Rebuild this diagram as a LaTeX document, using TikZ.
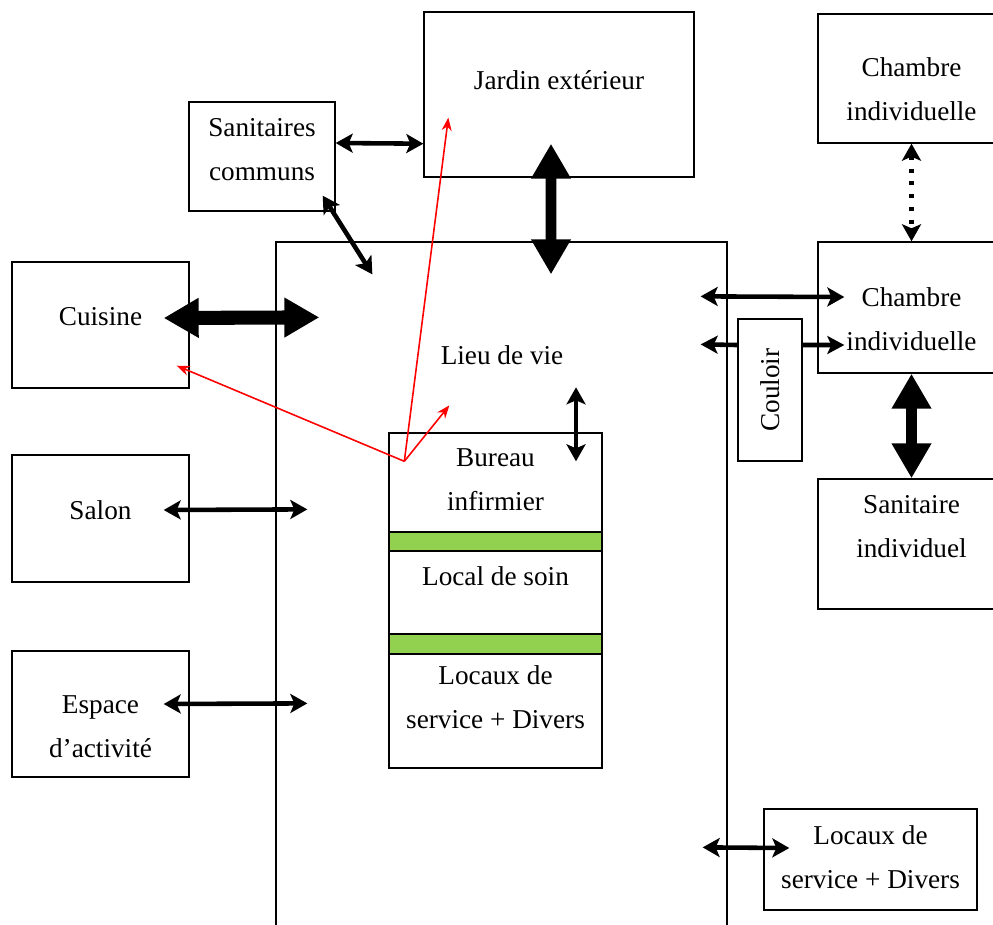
\documentclass[tikz,border=0pt]{standalone}
\usepackage{fontspec}
\setmainfont{Liberation Serif}
\usepackage{graphicx}
\usepackage{xcolor}
\definecolor{soingreen}{RGB}{146, 208, 80}
\usepackage{tikz}
\usetikzlibrary{arrows.meta, positioning, calc}

\begin{document}
\begin{tikzpicture}[x=0.02cm, y=-0.02cm,
      font=\fontsize{15.5pt}{25pt}\selectfont,
      room/.style={draw, line width=0.8pt, align=center, inner sep=2pt, text height=11pt},
      tworoom/.style={room, text height=36pt},
      band/.style={draw, line width=0.8pt, fill=soingreen, minimum width=4.26cm, inner sep=0pt},
      twoway/.style={line width=2.6pt,
            {Stealth[length=0.34cm, width=0.38cm, inset=0.08cm]}-{Stealth[length=0.34cm, width=0.38cm, inset=0.08cm]}},
      oneway/.style={line width=2.6pt, -{Stealth[length=0.34cm, width=0.36cm, inset=0.08cm]}},
      bigway/.style={line width=7pt, {Triangle[length=0.7cm, width=0.75cm]}-{Triangle[length=0.7cm, width=0.75cm]}},
      nurse/.style={red, line width=0.9pt, -{Stealth[length=0.26cm, width=0.2cm]}}]
      \useasboundingbox (0,0) rectangle (993,924);

      \node[room, minimum width=9.02cm, minimum height=13.96cm] (lieu) at (501.5,591) {};
      \node (lieutxt) at (502,355) {Lieu de vie};

      \node[room, minimum width=5.4cm, minimum height=3.3cm, text depth=16.5pt] (jardin)
            at (559,94.5) {Jardin extérieur};
      \node[tworoom, minimum width=2.92cm, minimum height=2.18cm, text depth=8.5pt] (sanitaires)
            at (262,156.5) {Sanitaires\\communs};
      \node[room, minimum width=3.54cm, minimum height=2.52cm, text depth=10pt] (cuisine)
            at (100.5,325) {Cuisine};
      \node[room, minimum width=3.54cm, minimum height=2.54cm, text depth=9.7pt] (salon)
            at (100.5,518.5) {Salon};
      \node[tworoom, minimum width=3.54cm, minimum height=2.52cm, text height=49pt, text depth=0pt] (espace)
            at (100.5,714) {Espace\\d’activité};

      \node[tworoom, minimum width=3.74cm, minimum height=2.58cm, text height=48pt, text depth=0pt] (chambre1)
            at (911.5,78.5) {Chambre\\individuelle};
      \node[tworoom, minimum width=3.74cm, minimum height=2.62cm, text height=49pt, text depth=0pt] (chambre2)
            at (911.5,307.5) {Chambre\\individuelle};
      \node[tworoom, minimum width=3.74cm, minimum height=2.6cm, text depth=20.4pt] (sanind)
            at (911.5,544) {Sanitaire\\individuel};
      \node[draw, line width=0.8pt, minimum width=1.28cm, minimum height=2.84cm, inner sep=0pt] (couloir)
            at (770,390) {\rotatebox{90}{Couloir}};
      \node[tworoom, minimum width=4.26cm, minimum height=2.02cm, text depth=3.4pt] (locdivers)
            at (870.5,859.5) {Locaux de\\service + Divers};

      \node[tworoom, minimum width=4.26cm, minimum height=1.98cm, text depth=4pt] (bureau)
            at (495.5,482.5) {Bureau\\infirmier};
      \node[band, minimum height=0.38cm, below=-0.8pt of bureau] (band1) {};
      \node[room, minimum width=4.26cm, minimum height=1.66cm, text depth=18.8pt, below=-0.8pt of band1] (soin)
            {Local de soin};
      \node[band, minimum height=0.4cm, below=-0.8pt of soin] (band2) {};
      \node[tworoom, minimum width=4.26cm, minimum height=2.28cm, text depth=16pt, below=-0.8pt of band2] (locaux)
            {Locaux de\\service + Divers};

      \draw[twoway] ($(sanitaires.east)+(0,-13.5)$) -- ($(jardin.south west)+(0,-34)$);
      \draw[twoway] ($(sanitaires.south east)+(-13,-16)$) -- ($(lieu.north west)+(97,33)$);
      \draw[bigway, line width=6pt] ($(jardin.south)+(-8,-34)$) -- ($(lieu.north)+(49.5,33)$);
      \draw[bigway, line width=8pt] ($(cuisine.east)+(-26,-7)$) -- ($(lieu.north west)+(44,76)$);
      \draw[twoway] ($(salon.east)+(-26,-8.5)$) -- ($(lieu.north west)+(32,268)$);
      \draw[twoway] ($(espace.east)+(-26,-10)$) -- ($(lieu.north west)+(32,462)$);
      \draw[twoway] ($(bureau.north)+(80.5,-45)$) -- ($(bureau.north)+(80.5,29)$);

      \draw[twoway] ($(lieu.north east)+(-27,55)$) -- ($(chambre2.west)+(27,-10.5)$);
      \draw[oneway] ($(couloir.west)+(0,-45)$) -- ($(lieu.north east)+(-27,103)$);
      \draw[oneway] ($(couloir.east)+(0,-45)$) -- ($(chambre2.west)+(27,37.5)$);
      \draw[twoway, dash pattern=on 2.3pt off 5pt] (chambre1.south) -- (chambre2.north);
      \draw[bigway, line width=6.5pt] (chambre2.south) -- (sanind.north);
      \draw[twoway] ($(lieu.north east)+(-25,606)$) -- ($(locdivers.west)+(26,-11.5)$);

      \coordinate (hub) at ($(bureau.north west)+(16,29)$);
      \draw[nurse] (hub) -- ($(jardin.south west)+(25,-60)$);
      \draw[nurse] (hub) -- ($(cuisine.south east)+(-13,-23)$);
      \draw[nurse] (hub) -- ($(lieu.north west)+(174,164)$);
    \end{tikzpicture}
\end{document}
